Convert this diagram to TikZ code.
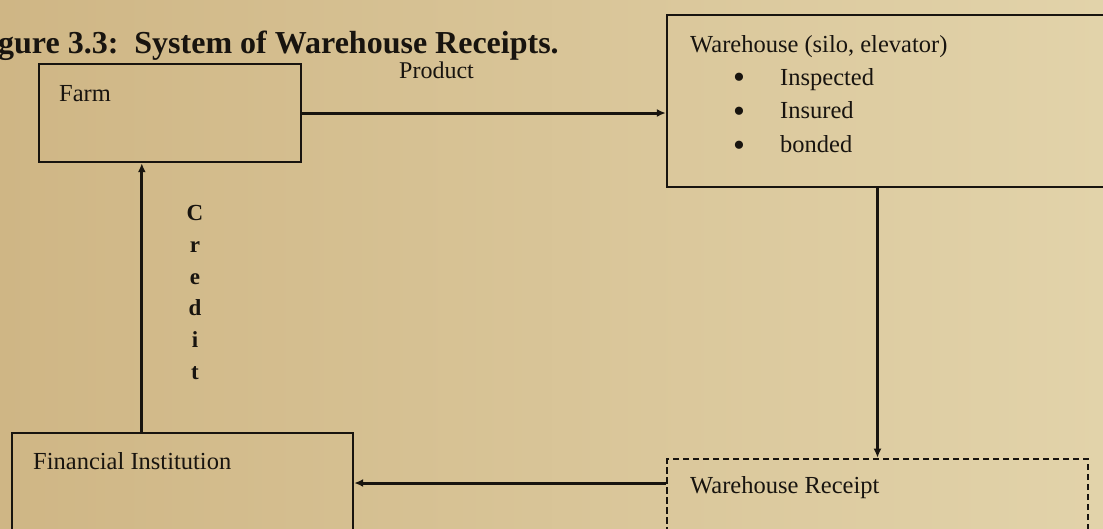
\documentclass[tikz,border=0pt]{standalone}
\usepackage{fontspec}
\setmainfont{Liberation Serif}
\usetikzlibrary{arrows.meta}
\definecolor{bgleft}{RGB}{207,182,133}
\definecolor{bgright}{RGB}{226,211,170}
\definecolor{ink}{RGB}{24,20,15}
\tikzset{
  box/.style={draw=ink, line width=2.4pt, rectangle, inner sep=0pt},
  dbox/.style={draw=ink, line width=2.6pt, rectangle, inner sep=0pt, dash pattern=on 6.5pt off 3.5pt},
  conn/.style={draw=ink, line width=3pt, -{Latex[length=9pt,width=8pt]}},
  lbl/.style={text=ink, inner sep=0pt, anchor=base west, font=\fontsize{24.5}{29}\selectfont},
  bul/.style={text=ink, inner sep=0pt, anchor=center, font=\fontsize{34}{36}\selectfont},
}
\begin{document}
\begin{tikzpicture}[x=1pt,y=-1pt]
\useasboundingbox (0,0) rectangle (1103,528);
\clip (0,0) rectangle (1103,528);
\shade[left color=bgleft, right color=bgright] (0,0) rectangle (1103,528);
% boxes
\node[box, minimum width=262pt, minimum height=98pt] (farm) at (170,113) {};
\node[box, minimum width=453pt, minimum height=172pt] (wh) at (893.5,101) {};
\node[box, minimum width=341pt, minimum height=100pt] (fin) at (182.5,483) {};
\node[dbox, minimum width=421pt, minimum height=90pt] (rec) at (877.5,504) {};
% texts
\node[lbl, font=\bfseries\fontsize{32}{36}\selectfont] (title) at (-2,53) {gure 3.3:\ \ System of Warehouse Receipts.};
\node[lbl] (farmtxt) at (59,101) {Farm};
\node[lbl] (whtxt) at (690,52) {Warehouse (silo, elevator)};
\node[bul] (b1) at (739,81) {\textbullet};
\node[bul] (b2) at (739,115) {\textbullet};
\node[bul] (b3) at (739,149) {\textbullet};
\node[lbl] (i1) at (780,85) {Inspected};
\node[lbl] (i2) at (780,118) {Insured};
\node[lbl] (i3) at (780,152) {bonded};
\node[lbl] (fintxt) at (33,469) {Financial Institution};
\node[lbl] (rectxt) at (690,493) {Warehouse Receipt};
\node[lbl, font=\fontsize{24}{29}\selectfont] (product) at (399,78) {Product};
\node[text=ink, inner sep=0pt, anchor=north, align=center, font=\bfseries\fontsize{23}{31.8}\selectfont] (credit) at (195,205) {C\\r\\e\\d\\i\\t};
% connectors
\draw[conn] (farm.east) -- (farm.east -| wh.west);
\draw[conn] (wh.south -| rec.north) -- (rec.north);
\draw[conn] (fin.east -| rec.west) -- (fin.east);
\draw[conn] ([xshift=131pt]fin.north west) -- ([xshift=131pt]fin.north west |- farm.south);
\end{tikzpicture}
\end{document}
